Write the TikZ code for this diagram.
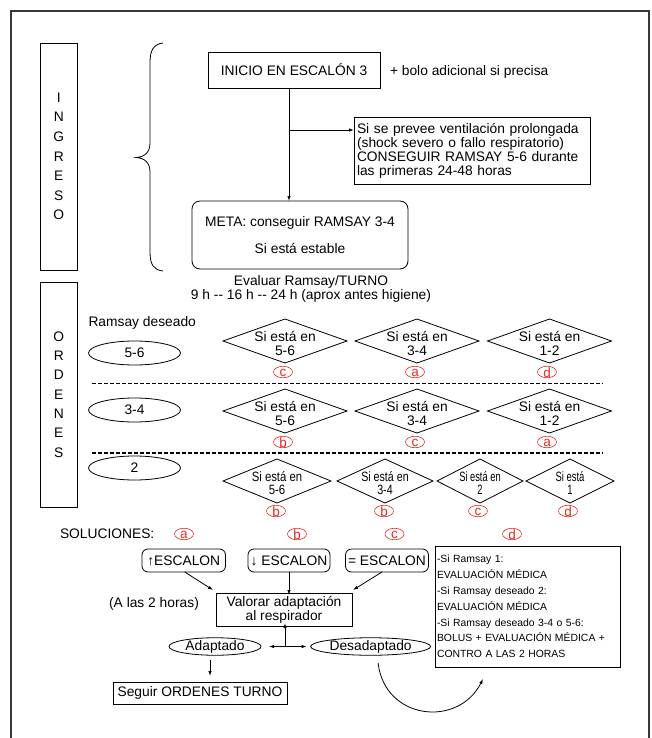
\documentclass[tikz,border=0pt]{standalone}
\usepackage{fontspec}
\setmainfont{Liberation Sans}
\usetikzlibrary{shapes.geometric,arrows.meta}
\definecolor{optred}{RGB}{232,42,36}
\definecolor{framegray}{RGB}{55,55,55}
% horizontally condensed text
\newcommand\cnd[2]{\scalebox{#1}[1]{#2}}

\begin{document}
\begin{tikzpicture}[x=1pt,y=-1pt,
  every node/.style={font=\fontsize{13.8}{14}\selectfont, inner sep=0pt, outer sep=0pt},
  box/.style={draw, line width=0.8pt, rectangle},
  rbox/.style={box, rounded corners=6pt},
  ell/.style={draw, line width=0.8pt, ellipse, inner sep=0pt},
  dia/.style={draw, line width=0.8pt, diamond, inner sep=0pt, minimum height=44pt},
  opt/.style={draw=optred, line width=0.6pt, ellipse, minimum width=19pt, minimum height=11.5pt,
              text=optred},
  optl/.style={text=optred, font=\fontsize{13.5}{13.5}\selectfont},
  arr/.style={-{Latex[length=5pt,width=3.4pt]}, line width=0.8pt},
  sep/.style={dashed, dash pattern=on 3.5pt off 2.5pt, line width=1.1pt},
  side/.style={box, minimum width=36.5pt, align=center},
  ]
\useasboundingbox (0,0) rectangle (651,738);

% outer frame
\draw[line width=1.3pt, draw=framegray] (11,738) -- (11,11) -- (649,11) -- (649,738);

% ---------- INGRESO ----------
\node[side, minimum height=227pt, font=\fontsize{13.8}{19.6}\selectfont] (ingreso) at (58.75,156.5)
  {I\\N\\G\\R\\E\\S\\O};
\draw[line width=0.8pt] (163,43) .. controls (154,44) and (150,50) .. (150,62) -- (150,143)
  .. controls (150,152) and (145,157) .. (136,157.5)
  .. controls (145,158) and (150,163) .. (150,172) -- (150,252)
  .. controls (150,265) and (154,270) .. (163,271);

\node[box, minimum width=172pt, minimum height=36pt] (inicio) at (294,70) {INICIO EN ESCALÓN 3};
\node[anchor=west] (bolo) at (390,72) {+ bolo adicional si precisa};

\node[box, minimum width=236pt, minimum height=67pt, text width=230pt, align=left] (prevee) at (472,150.5)
  {Si se prevee ventilación prolongada\\(shock severo o fallo respiratorio)\\CONSEGUIR RAMSAY 5-6 durante\\las primeras 24-48 horas};

\node[rbox, rounded corners=8pt, minimum width=216pt, minimum height=68pt, align=center] (meta) at (300,235)
  {META: conseguir RAMSAY 3-4\\[13pt]Si está estable};

\coordinate (vx) at (289,0);
\coordinate (br) at (289,130);
\draw[arr] (inicio.south -| vx) -- (meta.north -| vx);
\draw[arr] (br) -- (br -| prevee.west);

\node[align=center, font=\fontsize{13.8}{13.5}\selectfont] (eval) at (311,289)
  {Evaluar Ramsay/TURNO\\9 h -{}- 16 h -{}- 24 h (aprox antes higiene)};

% ---------- ORDENES ----------
\node[side, minimum height=225pt, font=\fontsize{13.8}{19.3}\selectfont] (ordenes) at (58.75,394.5)
  {O\\R\\D\\E\\N\\E\\S};

\node[anchor=west] (deseado) at (88.5,323) {Ramsay deseado};
\node[ell, minimum width=92pt, minimum height=24pt] (r56) at (134.5,353) {5-6};
\node[ell, minimum width=92pt, minimum height=24pt] (r34) at (134.5,410) {3-4};
\node[ell, minimum width=92pt, minimum height=24pt] (r2) at (134.5,468) {2};

\coordinate (sepA) at (92,383.5);
\coordinate (sepB) at (92,453);
\draw[sep] (sepA) -- ++(511,0);
\draw[sep] (sepB) -- ++(511,0);

% row 5-6
\node[dia, minimum width=124pt] (d11) at (285,341) {};
\node[dia, minimum width=124pt] (d12) at (417,341) {};
\node[dia, minimum width=124pt] (d13) at (549.5,341) {};
\node[align=center] (t11) at ([yshift=-2pt]d11.center) {Si está en\\5-6};
\node[align=center] (t12) at ([yshift=-2pt]d12.center) {Si está en\\3-4};
\node[align=center] (t13) at ([yshift=-2pt]d13.center) {Si está en\\1-2};
\node[opt] (o11) at (283,372) {};
\node[opt] (o12) at (415,372) {};
\node[opt] (o13) at (547,372) {};
\node[optl] (l11) at ([yshift=-0.8pt]o11.center) {c};
\node[optl] (l12) at ([yshift=-0.8pt]o12.center) {a};
\node[optl] (l13) at ([yshift=-0.8pt]o13.center) {d};

% row 3-4
\node[dia, minimum width=124pt] (d21) at (285,411) {};
\node[dia, minimum width=124pt] (d22) at (417,411) {};
\node[dia, minimum width=124pt] (d23) at (549.5,411) {};
\node[align=center] (t21) at ([yshift=-2pt]d21.center) {Si está en\\5-6};
\node[align=center] (t22) at ([yshift=-2pt]d22.center) {Si está en\\3-4};
\node[align=center] (t23) at ([yshift=-2pt]d23.center) {Si está en\\1-2};
\node[opt] (o21) at (283,442) {};
\node[opt] (o22) at (415,442) {};
\node[opt] (o23) at (547,442) {};
\node[optl] (l21) at ([yshift=-0.8pt]o21.center) {b};
\node[optl] (l22) at ([yshift=-0.8pt]o22.center) {c};
\node[optl] (l23) at ([yshift=-0.8pt]o23.center) {a};

% row 2
\node[dia, minimum width=108pt] (d31) at (277,481) {};
\node[dia, minimum width=96pt] (d32) at (385,481) {};
\node[dia, minimum width=86pt] (d33) at (480,481) {};
\node[dia, minimum width=88pt] (d34) at (570,481) {};
\node[align=center, font=\fontsize{13.5}{13}\selectfont] (t31) at ([yshift=-2pt]d31.center) {\cnd{0.84}{Si está en}\\\cnd{0.84}{5-6}};
\node[align=center, font=\fontsize{13.5}{13}\selectfont] (t32) at ([yshift=-2pt]d32.center) {\cnd{0.79}{Si está en}\\\cnd{0.79}{3-4}};
\node[align=center, font=\fontsize{13.5}{13}\selectfont] (t33) at ([yshift=-2pt]d33.center) {\cnd{0.69}{Si está en}\\\cnd{0.69}{2}};
\node[align=center, font=\fontsize{13.5}{13}\selectfont] (t34) at ([yshift=-2pt]d34.center) {\cnd{0.70}{Si está}\\\cnd{0.70}{1}};
\node[opt] (o31) at (276,511) {};
\node[opt] (o32) at (384,511) {};
\node[opt] (o33) at (478,511) {};
\node[opt] (o34) at (568,511) {};
\node[optl] (l31) at ([yshift=-0.8pt]o31.center) {b};
\node[optl] (l32) at ([yshift=-0.8pt]o32.center) {b};
\node[optl] (l33) at ([yshift=-0.8pt]o33.center) {c};
\node[optl] (l34) at ([yshift=-0.8pt]o34.center) {d};

% ---------- SOLUCIONES ----------
\node[anchor=west] (soluciones) at (60,534) {SOLUCIONES:};
\node[opt] (sa) at (184,534) {};
\node[opt] (sb) at (297,534) {};
\node[opt] (sc) at (394.5,534) {};
\node[opt] (sd) at (512,534) {};
\node[optl] (la) at ([yshift=-0.8pt]sa.center) {a};
\node[optl] (lb) at ([yshift=-0.8pt]sb.center) {b};
\node[optl] (lc) at ([yshift=-0.8pt]sc.center) {c};
\node[optl] (ld) at ([yshift=-0.8pt]sd.center) {d};

\node[rbox, minimum width=83.5pt, minimum height=23pt] (eup) at (183.75,560.5) {↑ESCALON};
\node[rbox, minimum width=82pt, minimum height=23pt] (edown) at (289,560.5) {↓ ESCALON};
\node[rbox, minimum width=83pt, minimum height=23pt] (eeq) at (387,560.5) {= ESCALON};

\node[box, minimum width=185pt, minimum height=121pt, text width=181pt, align=left,
      font=\fontsize{10.4}{15.8}\selectfont] (bolus) at (527.5,606.5)
  {-Si Ramsay 1:\\EVALUACIÓN MÉDICA\\-Si Ramsay deseado 2:\\EVALUACIÓN MÉDICA\\-Si Ramsay deseado 3-4 o 5-6:\\BOLUS + EVALUACIÓN MÉDICA +\\CONTRO A LAS 2 HORAS};

\node[box, minimum width=136pt, minimum height=33pt, align=center] (val) at (284,609.5)
  {Valorar adaptación\\al respirador};
\node (dos) at (154,604) {(A las 2 horas)};

\draw[arr] ([xshift=1pt]eup.south) -- ([shift={(-3,-3)}]val.north west);
\draw[arr] (edown.south) -- ([yshift=-2pt]edown.south |- val.north);
\draw[arr] ([xshift=-5pt]eeq.south) -- ([shift={(1,-3)}]val.north east);

\node[ell, minimum width=92pt, minimum height=17.5pt] (adap) at (215,646.5) {};
\node (adapt) at ([yshift=-0.5pt]adap.center) {Adaptado};
\node[ell, minimum width=120pt, minimum height=17.5pt] (desad) at (370.6,646.5) {};
\node (desadt) at ([yshift=-0.5pt]desad.center) {Desadaptado};

\coordinate (tj) at (285,646.5);
\draw[arr] (tj) -- ([yshift=3pt]tj |- val.south);
\draw[arr] (tj) -- ([xshift=8pt]adap.east);
\draw[arr] (tj) -- ([xshift=-4pt]desad.west);

\node[box, minimum width=174pt, minimum height=22pt] (seguir) at (200,693) {Seguir ORDENES TURNO};
\draw[arr, shorten <=5pt, shorten >=6pt] ([xshift=-5pt]adap.south) -- ([xshift=-5pt]adap.south |- seguir.north);

\coordinate (ret) at (483,679);
\draw[arr] ([shift={(7.5,8)}]desad.south) .. controls (385,720) and (458,728) .. (ret);

\end{tikzpicture}
\end{document}
